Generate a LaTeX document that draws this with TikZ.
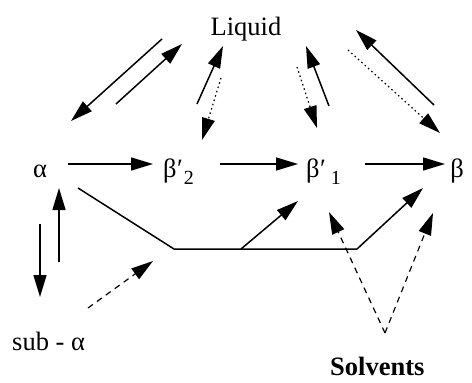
\documentclass[tikz,border=0pt]{standalone}
\usepackage{fontspec}
\setmainfont{Liberation Serif}
\usetikzlibrary{arrows.meta}
\begin{document}
\begin{tikzpicture}[x=1pt,y=-1pt,
  ln/.style={line width=1.5pt},
  arr/.style={ln,-{Triangle[length=22pt,width=13pt]}},
  dotarr/.style={arr,line width=1.2pt,dash pattern=on 1.5pt off 3pt},
  dasharr/.style={arr,line width=1.2pt,dash pattern=on 6pt off 5pt},
  lbl/.style={font=\fontsize{26.5}{30}\selectfont,inner sep=0pt,anchor=base},
  subs/.style={}]
\useasboundingbox (0,0) rectangle (472,383);
% labels
\node[lbl] (liq) at (246,35) {Liquid};
\node[lbl] (a) at (40,177) {α};
\node[lbl,anchor=base west] (b2) at (163,177) {β\kern0.5pt′\kern1pt\raisebox{-7pt}{\fontsize{20}{22}\selectfont 2}};
\node[lbl,anchor=base west] (b1) at (306,177) {β\kern0.5pt′\kern5pt\raisebox{-7pt}{\fontsize{20}{22}\selectfont 1}};
\node[lbl] (b) at (457,177) {β};
\node[lbl,anchor=base west] (sub) at (12,350) {sub - α};
\node[lbl,anchor=base west,font=\fontsize{26.5}{30}\selectfont\bfseries] (solv) at (330,375) {Solvents};
% connector ends
\coordinate (l1s) at (162,39);  \coordinate (l1e) at (71,121);
\coordinate (l2s) at (116,104); \coordinate (l2e) at (182,44);
\coordinate (l3s) at (197,104); \coordinate (l3e) at (223,46);
\coordinate (l4s) at (221,78);  \coordinate (l4e) at (202,140);
\coordinate (l5s) at (297,67);  \coordinate (l5e) at (317,128);
\coordinate (l6s) at (329,106); \coordinate (l6e) at (306,46);
\coordinate (l7s) at (348,50);  \coordinate (l7e) at (440,133);
\coordinate (l8s) at (434,105); \coordinate (l8e) at (356,30);
\coordinate (h1s) at (68,164);  \coordinate (h1e) at (153,164);
\coordinate (h2s) at (220,164); \coordinate (h2e) at (298,164);
\coordinate (h3s) at (365,164); \coordinate (h3e) at (445,164);
\coordinate (p0) at (78,188); \coordinate (p1) at (174,249);
\coordinate (p2) at (357,249); \coordinate (p3) at (423,188);
\coordinate (q0) at (241,249); \coordinate (q1) at (298,201);
\coordinate (v1s) at (40,224); \coordinate (v1e) at (40,297);
\coordinate (v2s) at (59,262); \coordinate (v2e) at (59,188);
\coordinate (d1s) at (88,308); \coordinate (d1e) at (153,261);
\coordinate (sv) at (385,333);
\coordinate (d2e) at (329,212); \coordinate (d3e) at (433,213);
% liquid connectors
\draw[arr] (l1s) -- (l1e);
\draw[arr] (l2s) -- (l2e);
\draw[arr] (l3s) -- (l3e);
\draw[dotarr] (l4s) -- (l4e);
\draw[dotarr] (l5s) -- (l5e);
\draw[arr] (l6s) -- (l6e);
\draw[dotarr] (l7s) -- (l7e);
\draw[arr] (l8s) -- (l8e);
% row
\draw[arr] (h1s) -- (h1e);
\draw[arr] (h2s) -- (h2e);
\draw[arr] (h3s) -- (h3e);
% lower path
\draw[ln] (p0) -- (p1) -- (p2);
\draw[arr] (p2) -- (p3);
\draw[arr] (q0) -- (q1);
\draw[arr] (v1s) -- (v1e);
\draw[arr] (v2s) -- (v2e);
\draw[dasharr] (d1s) -- (d1e);
\draw[dasharr] (sv) -- (d2e);
\draw[dasharr] (sv) -- (d3e);
\end{tikzpicture}
\end{document}
